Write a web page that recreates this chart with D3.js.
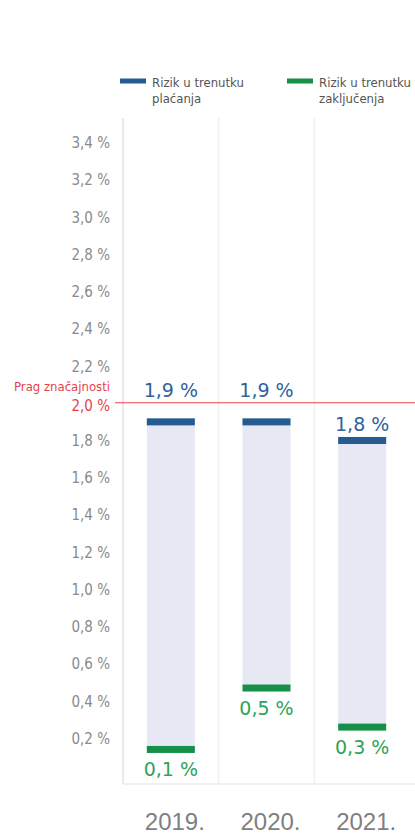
<!DOCTYPE html>
<html>
<head>
<meta charset="utf-8">
<style>
  body { margin: 0; background: #fff; }
  svg { display: block; }
</style>
</head>
<body>
<svg width="415" height="836"></svg>
<script src="https://d3js.org/d3.v7.min.js"></script>
<script>
// data
var years = ["2019.", "2020.", "2021."];
var placanje = [1.9, 1.9, 1.8];        // Rizik u trenutku plaćanja
var zakljucenje = [0.14, 0.47, 0.26];  // Rizik u trenutku zaključenja
var ticks = [0.2, 0.4, 0.6, 0.8, 1.0, 1.2, 1.4, 1.6, 1.8, 2.0, 2.2, 2.4, 2.6, 2.8, 3.0, 3.2, 3.4];
var prag = 2.0;
var legendNames = [["Rizik u trenutku", "plaćanja"], ["Rizik u trenutku", "zaključenja"]];

var svg = d3.select("svg");
var narrow = "'Liberation Sans Narrow', 'Arial Narrow', 'DejaVu Sans Condensed', sans-serif";
var geo = "'DejaVu Sans', Lato, sans-serif";
var blue = "#245c91", green = "#159048";

var x = d3.scaleBand().domain(years).range([123, 410]).padding(0);
var y = d3.scaleLinear().domain([0, 3.53]).range([775, 118]);
var fmt = function(v) { return d3.format(".1f")(v).replace(".", ",") + " %"; };

var rows = years.map(function(d, i) { return {year: d, hi: placanje[i], lo: zakljucenje[i]}; });

// grid
svg.selectAll(".vgrid").data(years).enter().append("line")
    .attr("x1", function(d) { return x(d); }).attr("x2", function(d) { return x(d); })
    .attr("y1", y(3.53)).attr("y2", 784)
    .attr("stroke", function(d, i) { return i == 0 ? "#e2e2e2" : "#f0f0f0"; })
    .attr("stroke-width", 1.5);
svg.append("line")
    .attr("x1", x.range()[0]).attr("x2", 415)
    .attr("y1", 784).attr("y2", 784)
    .attr("stroke", "#ececec").attr("stroke-width", 1.5);

// y tick labels
svg.selectAll(".tick").data(ticks).enter().append("text")
    .attr("x", 110).attr("y", function(d) { return y(d) + (d == prag ? 8 : 6); })
    .attr("text-anchor", "end")
    .attr("font-family", narrow).attr("font-size", 15)
    .attr("fill", function(d) { return d == prag ? "#e8434a" : "#8a8a8a"; })
    .text(fmt);

svg.append("text")
    .attr("x", 110).attr("y", y(prag) - 12)
    .attr("text-anchor", "end")
    .attr("font-family", narrow).attr("font-size", 13)
    .attr("fill", "#e8434a")
    .text("Prag značajnosti");

// range bars
var bw = 48;
var g = svg.selectAll(".yr").data(rows).enter().append("g")
    .attr("transform", function(d) { return "translate(" + (x(d.year) + x.bandwidth() / 2) + ",0)"; });

g.append("rect")
    .attr("x", -bw / 2).attr("width", bw)
    .attr("y", function(d) { return y(d.hi) - 3; })
    .attr("height", function(d) { return y(d.lo) - y(d.hi) + 3; })
    .attr("fill", "#e6e9f3");
g.append("rect")
    .attr("x", -bw / 2).attr("width", bw)
    .attr("y", function(d) { return y(d.hi) - 3; }).attr("height", 7)
    .attr("fill", blue);
g.append("rect")
    .attr("x", -bw / 2).attr("width", bw)
    .attr("y", function(d) { return y(d.lo) - 3; }).attr("height", 7)
    .attr("fill", green);

// threshold line
svg.append("line")
    .attr("x1", 115).attr("x2", 415)
    .attr("y1", y(prag)).attr("y2", y(prag))
    .attr("stroke", "#e8434a").attr("stroke-width", 1.2);

// value labels
g.append("text")
    .attr("y", function(d) {
      var b = y(d.hi) - 9;
      return (b - 15 < y(prag)) ? y(prag) - 6 : b;
    })
    .attr("text-anchor", "middle")
    .attr("font-family", geo).attr("font-size", 19)
    .attr("fill", "#2f6399")
    .text(function(d) { return fmt(d.hi); });
g.append("text")
    .attr("y", function(d) { return y(d.lo) + 27; })
    .attr("text-anchor", "middle")
    .attr("font-family", geo).attr("font-size", 19)
    .attr("fill", "#2ea35a")
    .text(function(d) { return fmt(d.lo); });

// year labels
svg.selectAll(".yl").data(years).enter().append("text")
    .attr("x", function(d) { return x(d) + x.bandwidth() / 2 + 4; })
    .attr("y", 830)
    .attr("text-anchor", "middle")
    .attr("font-family", "'Liberation Sans', Arial, sans-serif").attr("font-size", 24)
    .attr("fill", "#7f7f7f")
    .text(function(d) { return d; });

// legend
var leg = svg.selectAll(".leg").data(legendNames).enter().append("g")
    .attr("transform", function(d, i) { return "translate(" + (i == 0 ? 120 : 287) + ",81)"; });
leg.append("rect")
    .attr("width", 26).attr("height", 5).attr("y", -2.5)
    .attr("fill", function(d, i) { return i == 0 ? blue : green; });
leg.append("text")
    .attr("x", 32).attr("y", 6)
    .attr("font-family", narrow).attr("font-size", 13)
    .attr("fill", "#555")
    .selectAll("tspan").data(function(d) { return d; }).enter().append("tspan")
    .attr("x", 32).attr("dy", function(d, i) { return i == 0 ? 0 : 16; })
    .text(function(d) { return d; });
</script>
</body>
</html>
